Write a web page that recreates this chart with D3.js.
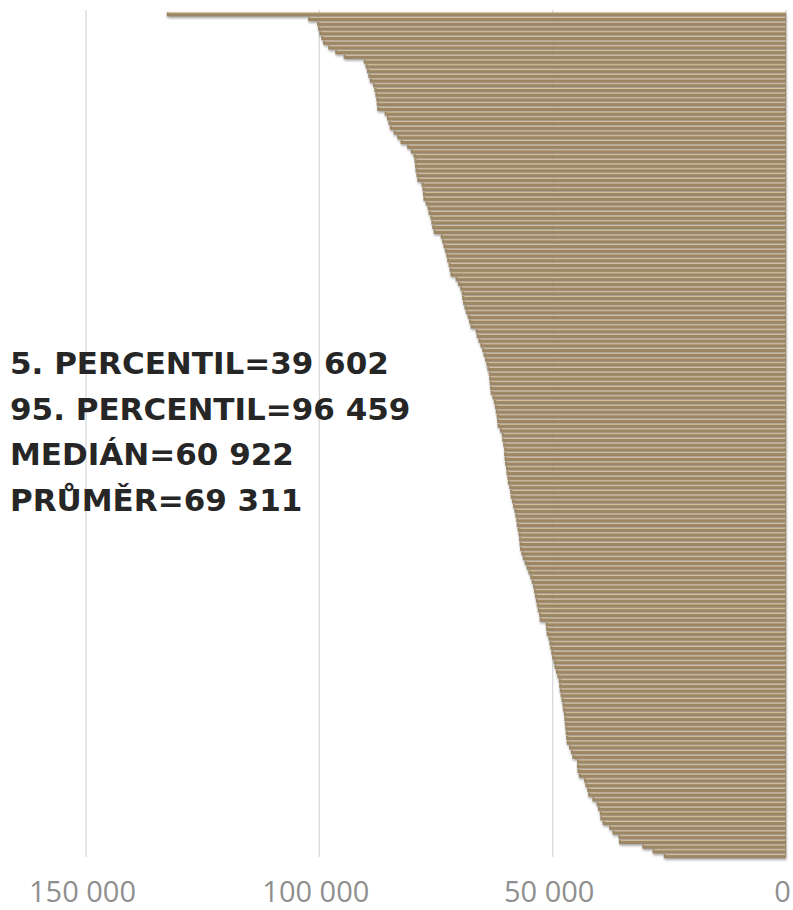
<!DOCTYPE html>
<html>
<head>
<meta charset="utf-8">
<script src="https://cdn.jsdelivr.net/npm/d3@7"></script>
<style>
  body { margin: 0; background: #fff; }
  svg { display: block; }
</style>
</head>
<body>
<div id="chart"></div>
<script>
// bar values, sorted from the top bar down to the bottom bar
var values = [
  132700, 102400, 100500, 100300, 100000, 99600, 99200, 98100, 96600, 94800,
  90500, 90100, 89800, 89500, 89200, 88500, 88200, 88000, 87800, 87700,
  87600, 86000, 85500, 85200, 84900, 84100, 83300, 82600, 81200, 80400,
  79800, 79600, 79500, 79400, 79200, 79000, 78100, 77900, 77800, 77700,
  77200, 76800, 76600, 76200, 76000, 75800, 75500, 74000, 73700, 73400,
  73100, 72800, 72600, 72300, 72100, 71900, 70800, 70300, 69800, 69500,
  69400, 69200, 68900, 68600, 68200, 67900, 67600, 66500, 66300, 65900,
  65500, 65100, 64800, 64500, 64200, 64000, 63700, 63600, 63500, 63400,
  63300, 62900, 62600, 62400, 62200, 62000, 61900, 61800, 61300, 60900,
  60800, 60600, 60400, 60400, 60300, 60200, 60000, 59900, 59700, 59600,
  59300, 59100, 59000, 58700, 58500, 58200, 58000, 57800, 57700, 57500,
  57300, 57200, 57100, 57000, 56700, 56400, 56000, 55600, 55200, 54800,
  54500, 54200, 54000, 53800, 53600, 53400, 53200, 52900, 52800, 51500,
  51400, 51300, 50900, 50700, 50500, 50300, 50100, 49800, 49600, 49300,
  49000, 48700, 48600, 48500, 48300, 48100, 47900, 47800, 47600, 47500,
  47400, 47300, 47200, 47100, 47000, 46500, 46100, 45800, 44800, 44800,
  44700, 44400, 43300, 43000, 42600, 42400, 41500, 40600, 40300, 39900,
  39800, 39300, 37900, 37200, 35900, 35800, 30800, 28600, 26200
];

var tickValues = [150000, 100000, 50000, 0];
var tickLabels = ["150 000", "100 000", "50 000", "0"];

var statLines = [
  "5. PERCENTIL=39 602",
  "95. PERCENTIL=96 459",
  "MEDIÁN=60 922",
  "PRŮMĚR=69 311"
];

var width = 793, height = 910;

var svg = d3.select("#chart").append("svg")
    .attr("width", width)
    .attr("height", height);

var defs = svg.append("defs");
defs.append("filter")
    .attr("id", "shadow")
    .attr("x", "-5%").attr("y", "-100%")
    .attr("width", "110%").attr("height", "400%")
  .append("feDropShadow")
    .attr("dx", 0.6)
    .attr("dy", 1.8)
    .attr("stdDeviation", 1.2)
    .attr("flood-color", "#6a6a6a")
    .attr("flood-opacity", 0.6);

var x = d3.scaleLinear()
    .domain([0, 150000])
    .range([786, 86]);

var y = d3.scaleBand()
    .domain(d3.range(values.length))
    .range([12, 858.5])
    .paddingInner(0.14)
    .paddingOuter(0.07);

// vertical gridlines
svg.append("g")
  .selectAll("line")
  .data(tickValues)
  .enter().append("line")
    .attr("x1", d => x(d))
    .attr("x2", d => x(d))
    .attr("y1", 10)
    .attr("y2", 857)
    .attr("stroke", "#d9d9d9")
    .attr("stroke-width", 1.3);

// bars
var bars = svg.append("g");
bars.selectAll("rect")
  .data(values)
  .enter().append("rect")
    .attr("x", d => x(d))
    .attr("y", (d, i) => y(i))
    .attr("width", d => x(0) - x(d))
    .attr("height", y.bandwidth())
    .attr("fill", "#9c8664")
    .attr("filter", "url(#shadow)");

// light top edge of each bar
bars.selectAll("line")
  .data(values)
  .enter().append("line")
    .attr("x1", d => x(d) + 2)
    .attr("x2", x(0) - 1)
    .attr("y1", (d, i) => y(i) + 0.5)
    .attr("y2", (d, i) => y(i) + 0.5)
    .attr("stroke", "#f0e0c0")
    .attr("stroke-opacity", 0.75)
    .attr("stroke-width", 0.9);

// x axis
var axis = svg.append("g")
    .attr("transform", "translate(-4,880)")
    .call(d3.axisBottom(x)
      .tickValues(tickValues)
      .tickSize(0)
      .tickFormat((d, i) => tickLabels[i]));
axis.select(".domain").remove();
axis.selectAll("text")
    .attr("y", 22)
    .attr("dy", 0)
    .attr("fill", "#8f8f8f")
    .style("font-family", "'Open Sans', sans-serif")
    .style("font-size", "29px");

// statistics text
svg.append("g")
  .selectAll("text")
  .data(statLines)
  .enter().append("text")
    .attr("x", 10)
    .attr("y", (d, i) => 374 + i * 45.6)
    .attr("fill", "#262626")
    .style("font-family", "'DejaVu Sans', sans-serif")
    .style("font-weight", "bold")
    .style("font-size", "31px")
    .text(d => d);
</script>
</body>
</html>
